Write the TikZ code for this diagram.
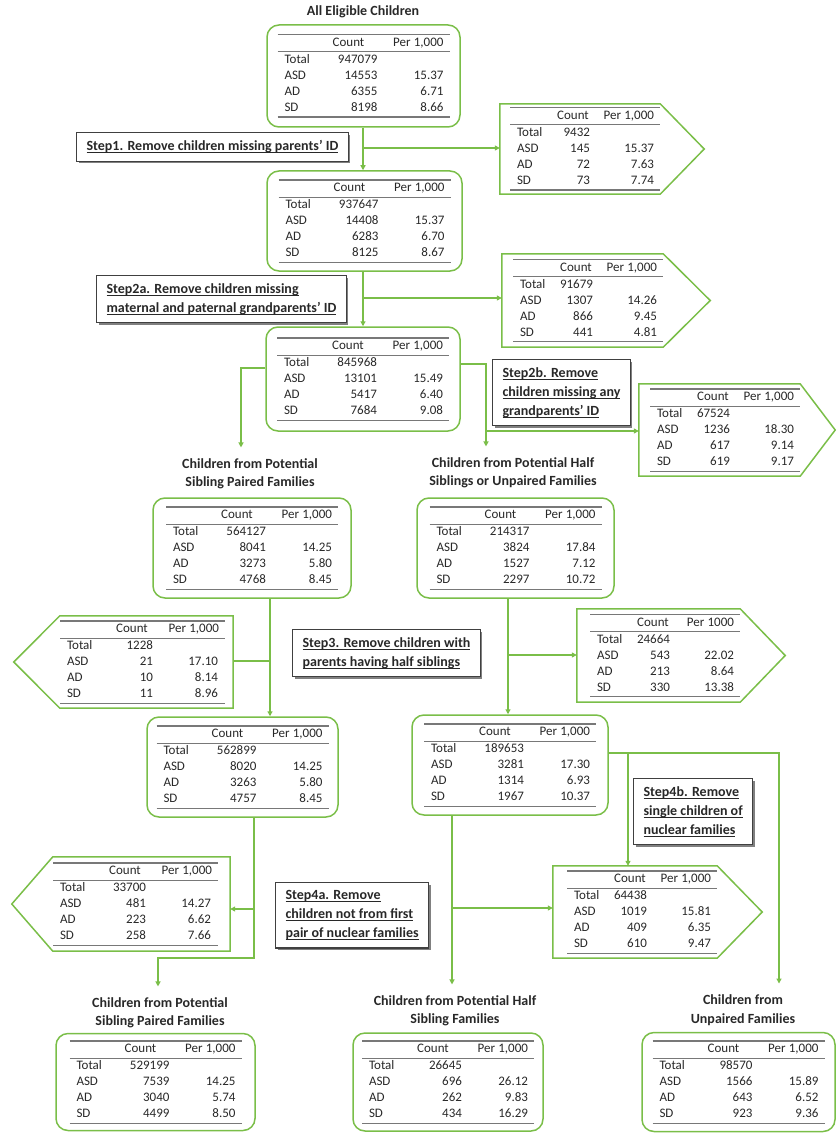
\documentclass[tikz,border=0pt]{standalone}
\usepackage{fontspec}
\setmainfont{Carlito}
\usepackage{array}
\usepackage{colortbl}
\usepackage{booktabs}
\usetikzlibrary{arrows.meta,shadows}
\definecolor{lgreen}{RGB}{122,190,72}
\definecolor{rulegray}{RGB}{120,120,120}
\definecolor{txt}{RGB}{40,40,40}
\arrayrulecolor{rulegray}
\newcolumntype{L}[1]{>{\raggedright\arraybackslash}p{#1}}
\newcolumntype{R}[1]{>{\raggedleft\arraybackslash}p{#1}}
\newcolumntype{Q}{@{\hspace{7pt}}L{35pt}R{58pt}R{66pt}@{\hspace{6pt}}}
\newcolumntype{U}{@{\hspace{7pt}}L{39pt}R{34pt}R{64pt}@{\hspace{6pt}}}
\newcolumntype{Y}{@{\hspace{7pt}}L{44pt}R{42pt}R{65pt}@{\hspace{7pt}}}
\setlength{\aboverulesep}{0pt}
\setlength{\belowrulesep}{0pt}
\newcommand{\uln}[1]{\setbox0\hbox{#1}\rlap{\rule[-2.2pt]{\wd0}{1pt}}\box0}
\newcommand{\tbl}[9]{{\fontsize{13}{16}\selectfont\setlength{\tabcolsep}{0pt}%
\begin{tabular}{#1}\toprule[1.4pt]
 & \multicolumn{1}{c}{Count} & \multicolumn{1}{r@{\hspace{6pt}}}{#2}\\\midrule[1pt]
Total & #3 & \\
ASD & #4 & #5\\
AD & #6 & #7\\
SD & #8 & #9\\\bottomrule[1.4pt]
\end{tabular}}}
\newcommand{\titfont}{\fontsize{14}{18.5}\selectfont\bfseries}
\newcommand{\stepfont}{\fontsize{14}{19}\selectfont\bfseries}
\begin{document}
\begin{tikzpicture}[x=1pt,y=-1pt,
  rbox/.style={draw=lgreen, line width=1.5pt, rounded corners=12pt, inner sep=0pt, align=center, text=txt},
  pbox/.style={inner sep=0pt, text=txt},
  pshape/.style={draw=lgreen, line width=1.5pt, line join=miter},
  conn/.style={draw=lgreen, line width=1.2pt},
  arr/.style={conn, -{Triangle[length=5pt,width=5pt]}},
  ttl/.style={font=\titfont, align=center, text=txt, inner xsep=2pt, inner ysep=11pt},
  stepbox/.style={draw=black!75, line width=1.2pt, fill=white, align=left, text=txt,
    inner xsep=10pt, inner ysep=8pt, anchor=north west, font=\stepfont,
    drop shadow={shadow xshift=2pt, shadow yshift=-2pt, fill=black!50, opacity=1}}
]
\useasboundingbox (0,0) rectangle (837,1134);

% ---------- titles
\node[ttl] (tA) at (363,12) {All Eligible Children};
\node[ttl] (tSP1) at (250,474) {Children from Potential\\Sibling Paired Families};
\node[ttl] (tHU) at (513,473) {Children from Potential Half\\Siblings or Unpaired Families};
\node[ttl] (tSP2) at (160,1013) {Children from Potential\\Sibling Paired Families};
\node[ttl] (tHS) at (455,1011) {Children from Potential Half\\Sibling Families};
\node[ttl] (tUP) at (743,1010) {Children from\\Unpaired Families};

% ---------- rounded boxes
\node[rbox, text width=193pt, minimum height=102pt] (A) at (363.5,76)
  {\tbl{Q}{Per 1,000}{947079}{14553}{15.37}{6355}{6.71}{8198}{8.66}};
\node[rbox, text width=195pt, minimum height=100pt] (B) at (364.5,221)
  {\tbl{Q}{Per 1,000}{937647}{14408}{15.37}{6283}{6.70}{8125}{8.67}};
\node[rbox, text width=194pt, minimum height=104pt] (C) at (363,379)
  {\tbl{Q}{Per 1,000}{845968}{13101}{15.49}{5417}{6.40}{7684}{9.08}};
\node[rbox, text width=198pt, minimum height=100pt] (D) at (252,548)
  {\tbl{Q}{Per 1,000}{564127}{8041}{14.25}{3273}{5.80}{4768}{8.45}};
\node[rbox, text width=197pt, minimum height=100pt] (E) at (515.5,548)
  {\tbl{Q}{Per 1,000}{214317}{3824}{17.84}{1527}{7.12}{2297}{10.72}};
\node[rbox, text width=191pt, minimum height=100pt] (F) at (242.5,767)
  {\tbl{Q}{Per 1,000}{562899}{8020}{14.25}{3263}{5.80}{4757}{8.45}};
\node[rbox, text width=196pt, minimum height=100pt] (G) at (510,765)
  {\tbl{Q}{Per 1,000}{189653}{3281}{17.30}{1314}{6.93}{1967}{10.37}};
\node[rbox, text width=199pt, minimum height=97pt] (H) at (155.5,1082)
  {\tbl{Q}{Per 1,000}{529199}{7539}{14.25}{3040}{5.74}{4499}{8.50}};
\node[rbox, text width=190pt, minimum height=98pt] (I) at (448,1082)
  {\tbl{Q}{Per 1,000}{26645}{696}{26.12}{262}{9.83}{434}{16.29}};
\node[rbox, text width=193pt, minimum height=99pt] (J) at (738.5,1082)
  {\tbl{Q}{Per 1,000}{98570}{1566}{15.89}{643}{6.52}{923}{9.36}};

% ---------- pentagon boxes (pointing right)
\node[pbox, text width=160pt, minimum height=90pt, align=right] (P1) at (580,149)
  {\tbl{U}{Per 1,000}{9432}{145}{15.37}{72}{7.63}{73}{7.74}};
\draw[pshape] (P1.north west) -- (P1.north east) -- ([xshift=44pt]P1.east) -- (P1.south east) -- (P1.south west) -- cycle;
\node[pbox, text width=161pt, minimum height=93pt, align=right] (P2) at (582.5,300.5)
  {\tbl{U}{Per 1,000}{91679}{1307}{14.26}{866}{9.45}{441}{4.81}};
\draw[pshape] (P2.north west) -- (P2.north east) -- ([xshift=47pt]P2.east) -- (P2.south east) -- (P2.south west) -- cycle;
\node[pbox, text width=161pt, minimum height=92pt, align=right] (P3) at (719.5,430)
  {\tbl{U}{Per 1,000}{67524}{1236}{18.30}{617}{9.14}{619}{9.17}};
\draw[pshape] (P3.north west) -- (P3.north east) -- ([xshift=35pt]P3.east) -- (P3.south east) -- (P3.south west) -- cycle;
\node[pbox, text width=163pt, minimum height=93pt, align=right] (P6) at (658.5,655.5)
  {\tbl{U}{Per 1000}{24664}{543}{22.02}{213}{8.64}{330}{13.38}};
\draw[pshape] (P6.north west) -- (P6.north east) -- ([xshift=45pt]P6.east) -- (P6.south east) -- (P6.south west) -- cycle;
\node[pbox, text width=164pt, minimum height=92pt, align=right] (P7) at (635,912)
  {\tbl{U}{Per 1,000}{64438}{1019}{15.81}{409}{6.35}{610}{9.47}};
\draw[pshape] (P7.north west) -- (P7.north east) -- ([xshift=45pt]P7.east) -- (P7.south east) -- (P7.south west) -- cycle;

% ---------- pentagon boxes (pointing left)
\node[pbox, text width=173pt, minimum height=92pt, align=left] (P4) at (146.5,662)
  {\tbl{Y}{Per 1,000}{1228}{21}{17.10}{10}{8.14}{11}{8.96}};
\draw[pshape] (P4.north east) -- (P4.north west) -- ([xshift=-46pt]P4.west) -- (P4.south west) -- (P4.south east) -- cycle;
\node[pbox, text width=177pt, minimum height=94pt, align=left] (P5) at (141.5,904)
  {\tbl{Y}{Per 1,000}{33700}{481}{14.27}{223}{6.62}{258}{7.66}};
\draw[pshape] (P5.north east) -- (P5.north west) -- ([xshift=-41pt]P5.west) -- (P5.south west) -- (P5.south east) -- cycle;

% ---------- step boxes
\node[stepbox] (S1) at (76,132) {\uln{Step1. Remove children missing parents’ ID}};
\node[stepbox] (S2a) at (96,275) {\uln{Step2a. Remove children missing}\\\uln{maternal and paternal grandparents’ ID}};
\node[stepbox] (S2b) at (492,359) {\uln{Step2b. Remove}\\\uln{children missing any}\\\uln{grandparents’ ID}};
\node[stepbox] (S3) at (292,629) {\uln{Step3. Remove children with}\\\uln{parents having half siblings}};
\node[stepbox] (S4a) at (275,882) {\uln{Step4a. Remove}\\\uln{children not from first}\\\uln{pair of nuclear families}};
\node[stepbox] (S4b) at (633,778) {\uln{Step4b. Remove}\\\uln{single children of}\\\uln{nuclear families}};

% ---------- junction coordinates
\coordinate (j1) at (363,148);
\coordinate (j2) at (363,298);
\coordinate (c1) at (241,368);
\coordinate (c2) at (486,364);
\coordinate (j3) at (486,431);
\coordinate (d1) at (270,661);
\coordinate (e1) at (508,655);
\coordinate (f1) at (254,909);
\coordinate (f2) at (254,958);
\coordinate (f3) at (158,958);
\coordinate (g1) at (779,753);
\coordinate (g2) at (628,753);
\coordinate (g3) at (452,908);

% ---------- connectors
\draw[arr] (j1 |- A.south) -- (j1 |- B.north);
\draw[arr] (j1) -- (j1 -| P1.west);
\draw[arr] (j2 |- B.south) -- (j2 |- C.north);
\draw[arr] (j2) -- (j2 -| P2.west);
\draw[arr] (C.west |- c1) -- (c1) -- (c1 |- tSP1.north);
\draw[arr] (C.east |- c2) -- (c2) -- (c2 |- tHU.north);
\draw[arr] (j3) -- (j3 -| P3.west);
\draw[arr] (d1 |- D.south) -- (d1 |- F.north);
\draw[conn] (d1) -- (d1 -| P4.east);
\draw[arr] (e1 |- E.south) -- (e1 |- G.north);
\draw[arr] (e1) -- (e1 -| P6.west);
\draw[arr] (f1 |- F.south) -- (f2) -- (f3) -- (f3 |- tSP2.north);
\draw[arr] (f1) -- (f1 -| P5.east);
\draw[arr] (G.east |- g1) -- (g1) -- (g1 |- tUP.north);
\draw[arr] (g2) -- (g2 |- P7.north);
\draw[arr] (g3 |- G.south) -- (g3 |- tHS.north);
\draw[arr] (g3) -- (g3 -| P7.west);
\end{tikzpicture}
\end{document}
